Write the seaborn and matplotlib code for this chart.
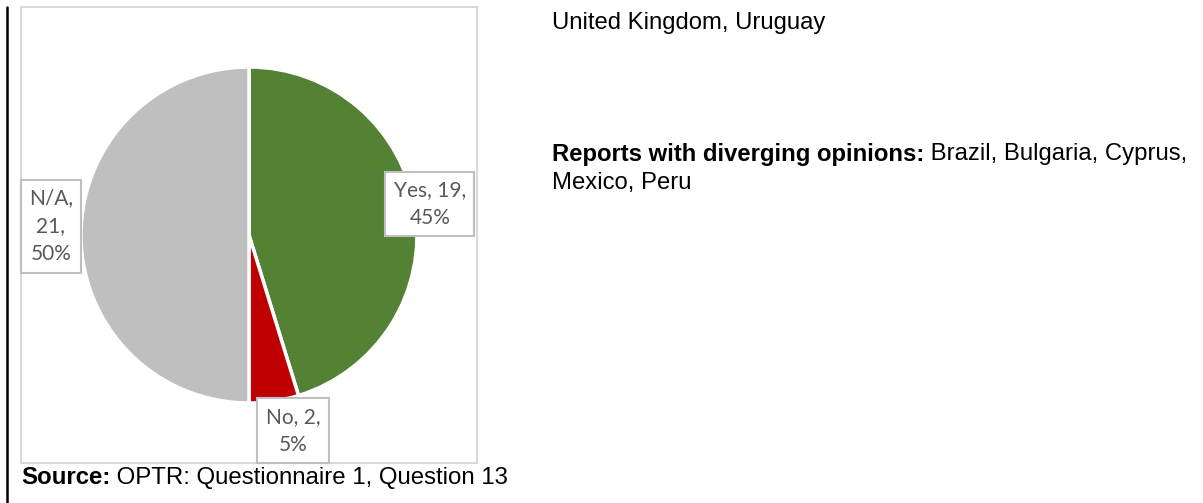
import matplotlib
matplotlib.use("Agg")
import matplotlib.pyplot as plt
from matplotlib.lines import Line2D
import seaborn as sns

# Survey answers (clockwise from 12 o'clock)
categories = ["Yes", "No", "N/A"]
counts = [19, 2, 21]
percent_labels = ["45%", "5%", "50%"]
slice_colors = ["#548235", "#C00000", "#BFBFBF"]

sns.set_theme(style="white")
plt.rcParams["font.family"] = ["Liberation Sans", "DejaVu Sans"]

W, H = 1203, 503
fig = plt.figure(figsize=(W / 100, H / 100), dpi=100)

# Pie area: square frame from x=21..477, y=7..463 (pixels)
left, top, size = 21, 7, 456
ax = fig.add_axes([left / W, 1 - (top + size) / H, size / W, size / H])
ax.pie(counts, colors=slice_colors, startangle=90, counterclock=False,
       radius=1.0, wedgeprops=dict(edgecolor="white", linewidth=2.5))
lim = 228 / 168
ax.set_xlim(-lim, lim)
ax.set_ylim(-lim, lim)
ax.set_aspect("equal")
ax.set_frame_on(True)
ax.set_xticks([])
ax.set_yticks([])
for sp in ax.spines.values():
    sp.set_visible(True)
    sp.set_color("#D9D9D9")
    sp.set_linewidth(1.5)

# Data labels in boxed callouts
label_pos = {"Yes": (1.077, 0.185), "No": (0.262, -1.165), "N/A": (-1.179, 0.051)}
label_text = {
    "Yes": f"Yes, {counts[0]},\n{percent_labels[0]}",
    "No": f"No, {counts[1]},\n{percent_labels[1]}",
    "N/A": f"N/A,\n{counts[2]},\n{percent_labels[2]}",
}
for cat in categories:
    x, y = label_pos[cat]
    ax.text(x, y, label_text[cat], ha="center", va="center", fontsize=15,
            color="#595959", family=["Lato", "DejaVu Sans"], linespacing=1.5,
            bbox=dict(boxstyle="square,pad=0.4", facecolor="white",
                      edgecolor="#BFBFBF", linewidth=1.5),
            clip_on=False, zorder=5)

# Vertical rule at the left edge
fig.add_artist(Line2D([7 / W, 7 / W], [0, 1 - 7 / H], color="black",
                      linewidth=1.8, transform=fig.transFigure))

renderer = fig.canvas.get_renderer()


def mixed_line(x_px, y_px, bold_part, plain_part, size):
    """Draw a bold lead-in followed by plain text on one line."""
    t = fig.text(x_px / W, 1 - y_px / H, bold_part, fontsize=size,
                 fontweight="bold", ha="left", va="center", color="black")
    bb = t.get_window_extent(renderer=renderer)
    fig.text(bb.x1 / W, 1 - y_px / H, " " + plain_part, fontsize=size,
             ha="left", va="center", color="black")


# Source line
mixed_line(21, 478, "Source:", "OPTR: Questionnaire 1, Question 13", 17.3)

# Side notes
fig.text(552 / W, 1 - 23 / H, "United Kingdom, Uruguay", fontsize=17.2,
         ha="left", va="center", color="black")
mixed_line(552, 154, "Reports with diverging opinions:",
           "Brazil, Bulgaria, Cyprus,", 17.2)
fig.text(552 / W, 1 - 183 / H, "Mexico, Peru", fontsize=17.2,
         ha="left", va="center", color="black")

fig.savefig("out.png", dpi=100, facecolor="white")
